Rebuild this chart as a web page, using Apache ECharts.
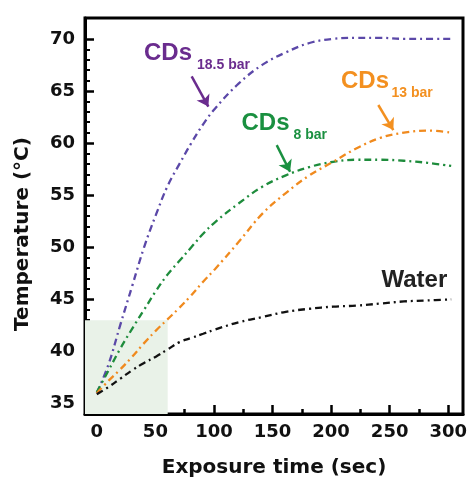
<!DOCTYPE html>
<html>
<head>
<meta charset="utf-8">
<script src="https://cdn.jsdelivr.net/npm/echarts@6/dist/echarts.min.js"></script>
<style>
html,body{margin:0;padding:0;background:#fff;}
#c{width:470px;height:483px;}
</style>
</head>
<body>
<div id="c"></div>
<script>
// ---- data ----
var time = [0, 10, 20, 30, 40, 50, 60, 70, 80, 90, 100, 120, 140, 160, 180, 200, 220, 240, 260, 280, 300];
var cds185 = [36.0, 38.8, 42.6, 46.3, 50.0, 53.1, 55.9, 58.0, 60.0, 61.8, 63.3, 65.7, 67.5, 68.7, 69.6, 70.0, 70.1, 70.1, 70.0, 70.0, 70.0];
var cds8   = [36.1, 38.2, 40.3, 42.2, 44.0, 45.8, 47.4, 48.7, 50.0, 51.3, 52.4, 54.2, 55.8, 56.9, 57.7, 58.2, 58.4, 58.4, 58.3, 58.1, 57.8];
var cds13  = [36.0, 37.2, 38.3, 39.5, 40.8, 42.0, 43.1, 44.2, 45.4, 46.7, 47.9, 50.5, 53.2, 55.2, 56.9, 58.2, 59.5, 60.5, 61.0, 61.2, 61.0];
var water  = [35.9, 36.6, 37.4, 38.2, 38.9, 39.5, 40.2, 40.9, 41.3, 41.7, 42.1, 42.8, 43.3, 43.8, 44.1, 44.3, 44.4, 44.6, 44.8, 44.9, 45.0];
var xRange = [-10, 310];   // plotted range
var yRange = [34, 72];
var xTickRange = [0, 300]; // labelled tick span, step 50
var yTickRange = [35, 70]; // labelled tick span, step 5
var shadeX = [-10, 60];
var shadeY = [34, 43];
var arrow185 = [[80.3, 66.4], [94.4, 63.5]];
var arrow8   = [[152.3, 59.8], [163.6, 57.25]];
var arrow13  = [[238.3, 63.65], [251, 61.25]];

function pairs(xs, ys){ return xs.map(function(x,i){ return [x, ys[i]]; }); }

var W = 470, H = 483;
var G = {left: 85, right: 7, top: 18, bottom: 69};
var pw = W - G.left - G.right, ph = H - G.top - G.bottom;
var sx = pw / (xRange[1] - xRange[0]), sy = ph / (yRange[1] - yRange[0]);
// tick grid, same scale, spanning only the tick range
var G2 = {
  left: G.left + (xTickRange[0] - xRange[0]) * sx,
  right: G.right + (xRange[1] - xTickRange[1]) * sx,
  top: G.top + (yRange[1] - yTickRange[1]) * sy,
  bottom: G.bottom + (yTickRange[0] - yRange[0]) * sy
};
var offX = (yTickRange[0] - yRange[0]) * sy;
var offY = (xTickRange[0] - xRange[0]) * sx;

var AX_FONT = '"DejaVu Sans", sans-serif';
var LB_FONT = '"Liberation Sans", Arial, sans-serif';
var dash = [7, 4, 2, 4];

function arrowLine(a, color){
  return {
    silent: true, animation: false,
    symbol: ['none', 'arrow'], symbolSize: 11,
    label: {show: false},
    lineStyle: {color: color, width: 2.5, type: 'solid'},
    data: [[{coord: a[0]}, {coord: a[1]}]]
  };
}

var chart = echarts.init(document.getElementById('c'), null, {renderer: 'canvas'});
var option = {
  animation: false,
  backgroundColor: '#fff',
  grid: [
    {left: G.left, right: G.right, top: G.top, bottom: G.bottom, show: true, borderColor: '#000', borderWidth: 3, backgroundColor: 'transparent'},
    {left: G2.left, right: G2.right, top: G2.top, bottom: G2.bottom, show: false}
  ],
  xAxis: [{
    gridIndex: 0, type: 'value', min: xRange[0], max: xRange[1],
    name: 'Exposure time (sec)', nameLocation: 'middle', nameGap: 44,
    nameTextStyle: {fontFamily: AX_FONT, fontWeight: 'bold', fontSize: 20, color: '#111'},
    axisLine: {show: true, onZero: false, lineStyle: {color: '#000', width: 3}},
    axisTick: {show: false}, axisLabel: {show: false}, splitLine: {show: false}
  }, {
    gridIndex: 1, type: 'value', min: xTickRange[0], max: xTickRange[1], interval: 50,
    offset: offX,
    axisLine: {show: false, onZero: false},
    axisTick: {show: true, inside: true, length: 9, lineStyle: {color: '#000', width: 2.5}},
    minorTick: {show: true, splitNumber: 2, length: 5, lineStyle: {color: '#000', width: 2.5}},
    axisLabel: {show: true, margin: 9, fontFamily: AX_FONT, fontWeight: 'bold', fontSize: 18, color: '#111'},
    splitLine: {show: false}, minorSplitLine: {show: false}
  }],
  yAxis: [{
    gridIndex: 0, type: 'value', min: yRange[0], max: yRange[1],
    axisLine: {show: true, onZero: false, lineStyle: {color: '#000', width: 3}},
    axisTick: {show: false}, axisLabel: {show: false}, splitLine: {show: false}
  }, {
    gridIndex: 1, type: 'value', min: yTickRange[0], max: yTickRange[1], interval: 5,
    offset: offY,
    axisLine: {show: false, onZero: false},
    axisTick: {show: true, inside: true, length: 9, lineStyle: {color: '#000', width: 2.5}},
    minorTick: {show: true, splitNumber: 5, length: 5, lineStyle: {color: '#000', width: 2}},
    axisLabel: {show: true, margin: 10, fontFamily: AX_FONT, fontWeight: 'bold', fontSize: 18, color: '#111'},
    splitLine: {show: false}, minorSplitLine: {show: false}
  }],
  series: [
    {
      name: 'shade', type: 'line', data: [], silent: true, xAxisIndex: 0, yAxisIndex: 0,
      markArea: {silent: true, itemStyle: {color: '#e9f2e8'},
        data: [[{coord: [shadeX[0], shadeY[0]]}, {coord: [shadeX[1], shadeY[1]]}]]}
    },
    {
      name: 'CDs 18.5 bar', type: 'line', smooth: 0.4, showSymbol: false, symbol: 'none', xAxisIndex: 0, yAxisIndex: 0,
      data: pairs(time, cds185),
      lineStyle: {color: '#5b48a8', width: 2.3, type: dash},
      markLine: arrowLine(arrow185, '#6a2c8e')
    },
    {
      name: 'CDs 8 bar', type: 'line', smooth: 0.4, showSymbol: false, symbol: 'none', xAxisIndex: 0, yAxisIndex: 0,
      data: pairs(time, cds8),
      lineStyle: {color: '#1e8c3c', width: 2.3, type: dash},
      markLine: arrowLine(arrow8, '#1a9040')
    },
    {
      name: 'CDs 13 bar', type: 'line', smooth: 0.4, showSymbol: false, symbol: 'none', xAxisIndex: 0, yAxisIndex: 0,
      data: pairs(time, cds13),
      lineStyle: {color: '#f08a1e', width: 2.3, type: dash},
      markLine: arrowLine(arrow13, '#f39020')
    },
    {
      name: 'Water', type: 'line', smooth: 0.4, showSymbol: false, symbol: 'none', xAxisIndex: 0, yAxisIndex: 0,
      data: pairs(time, water),
      lineStyle: {color: '#111', width: 2.3, type: dash}
    }
  ],
  graphic: [
    {type: 'text', x: 23, y: 234, rotation: Math.PI / 2, silent: true,
      style: {text: 'Temperature (°C)', font: 'bold 20px ' + AX_FONT, fill: '#111', align: 'center', verticalAlign: 'middle'}},
    {type: 'text', x: 144, y: 53, silent: true,
      style: {text: 'CDs', font: 'bold 24px ' + LB_FONT, fill: '#6a2c8e', align: 'left', verticalAlign: 'middle'}},
    {type: 'text', x: 197, y: 65.5, silent: true,
      style: {text: '18.5 bar', font: 'bold 14px ' + LB_FONT, fill: '#6a2c8e', align: 'left', verticalAlign: 'middle'}},
    {type: 'text', x: 241.5, y: 123.3, silent: true,
      style: {text: 'CDs', font: 'bold 24px ' + LB_FONT, fill: '#1a9040', align: 'left', verticalAlign: 'middle'}},
    {type: 'text', x: 293.5, y: 135, silent: true,
      style: {text: '8 bar', font: 'bold 14px ' + LB_FONT, fill: '#1a9040', align: 'left', verticalAlign: 'middle'}},
    {type: 'text', x: 341, y: 81.3, silent: true,
      style: {text: 'CDs', font: 'bold 24px ' + LB_FONT, fill: '#f39020', align: 'left', verticalAlign: 'middle'}},
    {type: 'text', x: 391.5, y: 93.3, silent: true,
      style: {text: '13 bar', font: 'bold 14px ' + LB_FONT, fill: '#f39020', align: 'left', verticalAlign: 'middle'}},
    {type: 'text', x: 381.5, y: 280.5, silent: true,
      style: {text: 'Water', font: 'bold 24px ' + LB_FONT, fill: '#222', align: 'left', verticalAlign: 'middle'}}
  ]
};
chart.setOption(option);
</script>
</body>
</html>
